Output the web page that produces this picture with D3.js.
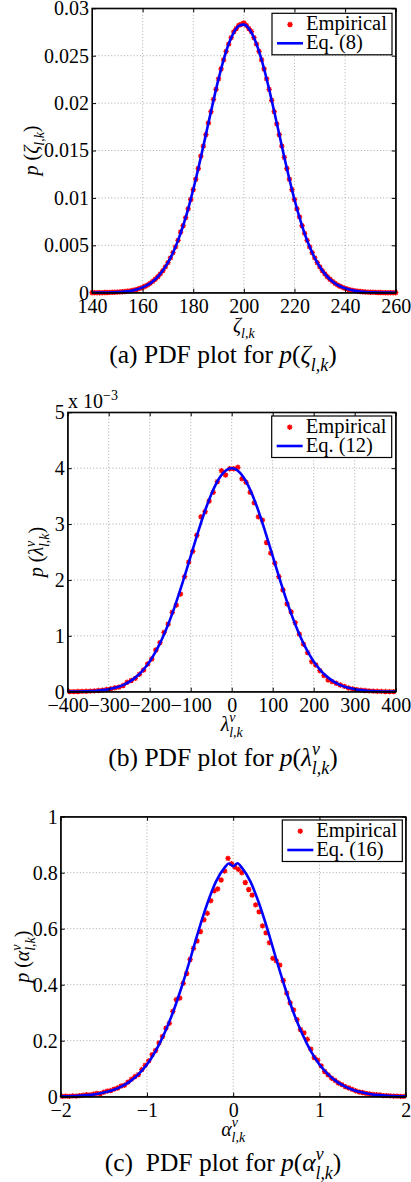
<!DOCTYPE html>
<html><head><meta charset="utf-8">
<script src="https://cdn.jsdelivr.net/npm/d3@7"></script>
<style>
body{margin:0;background:#fff;}
svg{display:block;font-family:"Liberation Serif","Times New Roman",serif;}
text{white-space:pre;}
</style></head><body>
<svg id="c" width="411" height="1182"></svg>
<script>
// ---------- Panel (a): zeta ----------
const zetaEmpX = d3.range(140, 261, 1);
const zetaEmpY = [
 0, 0, 0, 0, 0, 0.00002, 0.00002, 0.00003, 0.00004, 0.00005,
 0.00006, 0.00008, 0.00010, 0.00012, 0.00016, 0.00019, 0.00024, 0.00030, 0.00037, 0.00046,
 0.00056, 0.00068, 0.00082, 0.00099, 0.00119, 0.00142, 0.00168, 0.00199, 0.00233, 0.00273,
 0.00317, 0.00367, 0.00422, 0.00484, 0.00552, 0.00640, 0.00706, 0.00792, 0.00885, 0.00983,
 0.01088, 0.01197, 0.01310, 0.01440, 0.01546, 0.01668, 0.01790, 0.01911, 0.02040, 0.02145,
 0.02255, 0.02360, 0.02457, 0.02545, 0.02623, 0.02690, 0.02752, 0.02786, 0.02820, 0.02832,
 0.02845, 0.02820, 0.02786, 0.02755, 0.02690, 0.02623, 0.02545, 0.02457, 0.02360, 0.02255,
 0.02145, 0.02029, 0.01911, 0.01780, 0.01668, 0.01546, 0.01427, 0.01310, 0.01197, 0.01088,
 0.00983, 0.00885, 0.00800, 0.00706, 0.00625, 0.00552, 0.00484, 0.00422, 0.00367, 0.00317,
 0.00273, 0.00233, 0.00199, 0.00168, 0.00142, 0.00119, 0.00099, 0.00082, 0.00068, 0.00056,
 0.00046, 0.00037, 0.00030, 0.00024, 0.00019, 0.00016, 0.00012, 0.00010, 0.00008, 0.00006,
 0.00005, 0.00004, 0.00003, 0.00002, 0.00002, 0.00001, 0, 0, 0, 0,
 0
];
const zetaLineX = d3.range(140, 261, 2);
const zetaLineY = [
 0, 0.00001, 0.00001, 0.00002, 0.00004, 0.00006, 0.00010, 0.00015, 0.00024, 0.00037,
 0.00056, 0.00082, 0.00119, 0.00168, 0.00233, 0.00317, 0.00422, 0.00552, 0.00706, 0.00885,
 0.01088, 0.01310, 0.01546, 0.01790, 0.02029, 0.02255, 0.02457, 0.02623, 0.02744, 0.02814,
 0.02828, 0.02786, 0.02690, 0.02545, 0.02360, 0.02145, 0.01911, 0.01668, 0.01427, 0.01197,
 0.00983, 0.00792, 0.00625, 0.00484, 0.00367, 0.00273, 0.00199, 0.00142, 0.00099, 0.00068,
 0.00046, 0.00030, 0.00019, 0.00012, 0.00008, 0.00005, 0.00003, 0.00002, 0.00001, 0.00001,
 0
];
const zetaXTicks = [140, 160, 180, 200, 220, 240, 260];
const zetaXTickLabels = ["140", "160", "180", "200", "220", "240", "260"];
const zetaYTicks = [0, 0.005, 0.01, 0.015, 0.02, 0.025, 0.03];
const zetaYTickLabels = ["0", "0.005", "0.01", "0.015", "0.02", "0.025", "0.03"];

// ---------- Panel (b): lambda (values in units of 10^-3) ----------
const lambdaEmpX = d3.range(-395, 396, 10);
const lambdaEmpY = [
 0.002, 0.002, 0.004, 0.005, 0.007, 0.010, 0.015, 0.021, 0.028, 0.040,
 0.052, 0.070, 0.082, 0.110, 0.168, 0.200, 0.238, 0.311, 0.388, 0.496,
 0.585, 0.746, 0.877, 1.060, 1.210, 1.420, 1.550, 1.748, 2.060, 2.320,
 2.510, 2.800, 3.130, 3.220, 3.410, 3.568, 3.760, 3.955, 3.878, 3.990,
 3.990, 4.016, 3.810, 3.747, 3.568, 3.380, 3.130, 3.070, 2.670, 2.480,
 2.300, 2.060, 1.820, 1.570, 1.430, 1.235, 1.030, 0.850, 0.700, 0.537,
 0.478, 0.376, 0.287, 0.210, 0.180, 0.150, 0.120, 0.095, 0.066, 0.050,
 0.038, 0.027, 0.021, 0.014, 0.010, 0.007, 0.005, 0.003, 0.002, 0.002
];
const lambdaLineX = d3.range(-400, 401, 10);
const lambdaLineY = [
 0.001, 0.002, 0.003, 0.004, 0.006, 0.009, 0.012, 0.017, 0.024, 0.033,
 0.044, 0.060, 0.079, 0.104, 0.136, 0.176, 0.225, 0.284, 0.356, 0.441,
 0.541, 0.658, 0.792, 0.943, 1.112, 1.299, 1.501, 1.718, 1.947, 2.184,
 2.426, 2.668, 2.904, 3.131, 3.341, 3.530, 3.692, 3.824, 3.921, 3.980,
 4.000,
 3.980, 3.921, 3.824, 3.692, 3.530, 3.341, 3.131, 2.904, 2.668, 2.426,
 2.184, 1.947, 1.718, 1.501, 1.299, 1.112, 0.943, 0.792, 0.658, 0.541,
 0.441, 0.356, 0.284, 0.225, 0.176, 0.136, 0.104, 0.079, 0.060, 0.044,
 0.033, 0.024, 0.017, 0.012, 0.009, 0.006, 0.004, 0.003, 0.002, 0.001
];
const lambdaXTicks = [-400, -300, -200, -100, 0, 100, 200, 300, 400];
const lambdaXTickLabels = ["\u2212400", "\u2212300", "\u2212200", "\u2212100", "0", "100", "200", "300", "400"];
const lambdaYTicks = [0, 1, 2, 3, 4, 5];
const lambdaYTickLabels = ["0", "1", "2", "3", "4", "5"];

// ---------- Panel (c): alpha ----------
const alphaEmpX = d3.range(-1.98, 1.99, 0.04);
const alphaEmpY = [
 0.001, 0.002, 0.001, 0.003, 0.002, 0.004, 0.005, 0.007, 0.006, 0.009,
 0.012, 0.011, 0.016, 0.020, 0.022, 0.027, 0.031, 0.038, 0.041, 0.052,
 0.062, 0.072, 0.079, 0.097, 0.112, 0.128, 0.150, 0.165, 0.192, 0.215,
 0.245, 0.262, 0.305, 0.347, 0.352, 0.405, 0.440, 0.490, 0.530, 0.556,
 0.590, 0.632, 0.655, 0.700, 0.735, 0.742, 0.774, 0.806, 0.851, 0.832,
 0.820, 0.812, 0.800, 0.765, 0.740, 0.720, 0.685, 0.660, 0.610, 0.585,
 0.550, 0.494, 0.485, 0.470, 0.415, 0.370, 0.335, 0.310, 0.275, 0.240,
 0.228, 0.205, 0.170, 0.140, 0.130, 0.110, 0.090, 0.078, 0.066, 0.058,
 0.049, 0.043, 0.036, 0.031, 0.026, 0.021, 0.017, 0.015, 0.012, 0.010,
 0.008, 0.007, 0.006, 0.004, 0.004, 0.003, 0.002, 0.002, 0.001, 0.001
];
const alphaLineX = [-2, -1.9, -1.8, -1.7, -1.6, -1.5, -1.4, -1.3, -1.2, -1.1, -1, -0.9, -0.8, -0.7, -0.6, -0.5, -0.4, -0.3, -0.2, -0.1, -0.05,
 0, 0.05, 0.1, 0.2, 0.3, 0.4, 0.5, 0.6, 0.7, 0.8, 0.9, 1, 1.1, 1.2, 1.3, 1.4, 1.5, 1.6, 1.7, 1.8, 1.9, 2];
const alphaLineY = [0.001, 0.0018, 0.003, 0.0055, 0.009, 0.015, 0.023, 0.036, 0.054, 0.080, 0.115, 0.163, 0.225, 0.300, 0.390, 0.490, 0.595, 0.690, 0.768, 0.818, 0.833,
 0.823, 0.834, 0.818, 0.768, 0.690, 0.595, 0.490, 0.390, 0.300, 0.225, 0.163, 0.115, 0.080, 0.054, 0.036, 0.023, 0.015, 0.009, 0.0055, 0.003, 0.0018, 0.001];
const alphaXTicks = [-2, -1, 0, 1, 2];
const alphaXTickLabels = ["\u22122", "\u22121", "0", "1", "2"];
const alphaYTicks = [0, 0.2, 0.4, 0.6, 0.8, 1];
const alphaYTickLabels = ["0", "0.2", "0.4", "0.6", "0.8", "1"];

const legendLabels = ["Empirical", "Eq. (8)", "Eq. (12)", "Eq. (16)"];

// ---------- drawing ----------
const svg = d3.select('#c');
const TICK_FS = 20;

function mathText(t, pieces, size) {
  let shift = 0;
  pieces.forEach(p => {
    const ts = t.append('tspan').text(p.t);
    let s = 0, fs = size;
    if (p.sub) { s = 0.3 * size; fs = 0.7 * size; }
    if (p.sup) { s = -0.42 * size; fs = 0.7 * size; }
    ts.attr('font-size', fs).attr('dy', s - shift);
    if (p.i) ts.attr('font-style', 'italic');
    if (p.dx) ts.attr('dx', p.dx * size);
    shift = s;
  });
  return t;
}

function star(s) {
  const a = s * 0.72;
  return `M${-s},0H${s}M0,${-s}V${s}M${-a},${-a}L${a},${a}M${-a},${a}L${a},${-a}`;
}

function marker(sel) {
  sel.append('circle').attr('r', 1.8).attr('fill', '#ff0000');
  sel.append('path').attr('d', star(2.7)).attr('stroke', '#ff0000').attr('stroke-width', 1.3).attr('fill', 'none');
}

function panel(o) {
  const x = d3.scaleLinear().domain(o.xDomain).range([o.left, o.right]);
  const y = d3.scaleLinear().domain(o.yDomain).range([o.bottom, o.top]);
  const g = svg.append('g');

  // grid
  g.selectAll('.gx').data(o.xTicks).join('line')
    .attr('x1', d => x(d)).attr('x2', d => x(d)).attr('y1', o.top).attr('y2', o.bottom)
    .attr('stroke', '#aaaaaa').attr('stroke-width', 1).attr('stroke-dasharray', '1,2.2');
  g.selectAll('.gy').data(o.yTicks).join('line')
    .attr('y1', d => y(d)).attr('y2', d => y(d)).attr('x1', o.left).attr('x2', o.right)
    .attr('stroke', '#aaaaaa').attr('stroke-width', 1).attr('stroke-dasharray', '1,2.2');

  // empirical markers
  g.append('g').selectAll('g').data(o.empX.map((d, i) => [d, o.empY[i]])).join('g')
    .attr('transform', d => `translate(${x(d[0])},${y(d[1])})`)
    .each(function () { marker(d3.select(this)); });

  // theoretical line
  const line = d3.line().x(d => x(d[0])).y(d => y(d[1])).curve(d3.curveMonotoneX);
  g.append('path').datum(o.lineX.map((d, i) => [d, o.lineY[i]]))
    .attr('d', line).attr('fill', 'none').attr('stroke', '#0000ff').attr('stroke-width', 2.6)
    .attr('stroke-linejoin', 'round');

  // axes
  const styleAxis = a => {
    a.selectAll('.domain').attr('stroke', '#000');
    a.selectAll('.tick line').attr('stroke', '#000');
    a.selectAll('text').attr('font-size', TICK_FS).attr('font-family', '"Liberation Serif",serif').attr('fill', '#000');
  };
  g.append('g').attr('transform', `translate(0,${o.bottom})`)
    .call(d3.axisBottom(x).tickValues(o.xTicks).tickFormat((d, i) => o.xLabels[i]).tickSizeInner(-4).tickSizeOuter(0).tickPadding(6))
    .call(styleAxis);
  g.append('g').attr('transform', `translate(0,${o.top})`)
    .call(d3.axisTop(x).tickValues(o.xTicks).tickFormat(() => '').tickSizeInner(-4).tickSizeOuter(0))
    .call(styleAxis);
  g.append('g').attr('transform', `translate(${o.left},0)`)
    .call(d3.axisLeft(y).tickValues(o.yTicks).tickFormat((d, i) => o.yLabels[i]).tickSizeInner(-4).tickSizeOuter(0).tickPadding(3))
    .call(styleAxis);
  g.append('g').attr('transform', `translate(${o.right},0)`)
    .call(d3.axisRight(y).tickValues(o.yTicks).tickFormat(() => '').tickSizeInner(-4).tickSizeOuter(0))
    .call(styleAxis);
  g.selectAll('.domain').attr('stroke-width', 1);
  g.append('rect').attr('x', o.left).attr('y', o.top).attr('width', o.right - o.left).attr('height', o.bottom - o.top)
    .attr('fill', 'none').attr('stroke', '#000').attr('stroke-width', 1.2);

  // legend
  const lx = o.legend[0], ly = o.legend[1];
  const lg = g.append('g');
  lg.append('rect').attr('x', lx).attr('y', ly).attr('width', 120).attr('height', 41.5)
    .attr('fill', '#fff').attr('stroke', '#000').attr('stroke-width', 1.2);
  marker(lg.append('g').attr('transform', `translate(${lx + 18},${ly + 11.2})`));
  lg.append('line').attr('x1', lx + 5).attr('x2', lx + 31).attr('y1', ly + 30).attr('y2', ly + 30)
    .attr('stroke', '#0000ff').attr('stroke-width', 2.6);
  lg.append('text').attr('x', lx + 34).attr('y', ly + 16.5).attr('font-size', 20.5).text(legendLabels[0]);
  lg.append('text').attr('x', lx + 34).attr('y', ly + 35.5).attr('font-size', 20.5).text(o.eqLabel);

  // axis labels
  const cx = (o.left + o.right) / 2;
  mathText(g.append('text').attr('x', cx).attr('y', o.bottom + 39).attr('text-anchor', 'middle'), o.xLabelPieces, 20);
  const cy = (o.top + o.bottom) / 2;
  mathText(g.append('text').attr('transform', `translate(${o.yLabelX},${cy}) rotate(-90)`).attr('text-anchor', 'middle'), o.yLabelPieces, 20);
  // caption
  mathText(g.append('text').attr('x', 223).attr('y', o.captionY).attr('text-anchor', 'middle'), o.captionPieces, 25.5);
  return g;
}

panel({
  left: 92, right: 395.7, top: 8.3, bottom: 292.7,
  xDomain: [140, 260], yDomain: [0, 0.03],
  xTicks: zetaXTicks, xLabels: zetaXTickLabels, yTicks: zetaYTicks, yLabels: zetaYTickLabels,
  empX: zetaEmpX, empY: zetaEmpY, lineX: zetaLineX, lineY: zetaLineY,
  legend: [272, 13.3], eqLabel: legendLabels[1],
  xLabelPieces: [{t: 'ζ', i: 1}, {t: 'l,k', i: 1, sub: 1}],
  yLabelX: 38,
  yLabelPieces: [{t: 'p', i: 1}, {t: ' ('}, {t: 'ζ', i: 1}, {t: 'l,k', i: 1, sub: 1}, {t: ')'}],
  captionY: 363,
  captionPieces: [{t: '(a) PDF plot for '}, {t: 'p', i: 1}, {t: '('}, {t: 'ζ', i: 1}, {t: 'l,k', i: 1, sub: 1}, {t: ')'}]
});

const gb = panel({
  left: 67.7, right: 395.7, top: 412.3, bottom: 691.7,
  xDomain: [-400, 400], yDomain: [0, 5],
  xTicks: lambdaXTicks, xLabels: lambdaXTickLabels, yTicks: lambdaYTicks, yLabels: lambdaYTickLabels,
  empX: lambdaEmpX, empY: lambdaEmpY, lineX: lambdaLineX, lineY: lambdaLineY,
  legend: [271.7, 416], eqLabel: legendLabels[2],
  xLabelPieces: [{t: 'λ', i: 1}, {t: 'ν', i: 1, sup: 1}, {t: 'l,k', i: 1, sub: 1, dx: -0.32}],
  yLabelX: 43,
  yLabelPieces: [{t: 'p', i: 1}, {t: ' ('}, {t: 'λ', i: 1}, {t: 'ν', i: 1, sup: 1}, {t: 'l,k', i: 1, sub: 1, dx: -0.32}, {t: ')'}],
  captionY: 766,
  captionPieces: [{t: '(b) PDF plot for '}, {t: 'p', i: 1}, {t: '('}, {t: 'λ', i: 1}, {t: 'ν', i: 1, sup: 1}, {t: 'l,k', i: 1, sub: 1, dx: -0.32}, {t: ')'}]
});
// exponent label for panel (b)
const ex = gb.append('text').attr('x', 68).attr('y', 408).attr('font-size', TICK_FS).text('x 10');
ex.append('tspan').attr('font-size', 14).attr('dy', -8).text('\u22123');

panel({
  left: 60.7, right: 405.7, top: 816.7, bottom: 1096.7,
  xDomain: [-2, 2], yDomain: [0, 1],
  xTicks: alphaXTicks, xLabels: alphaXTickLabels, yTicks: alphaYTicks, yLabels: alphaYTickLabels,
  empX: alphaEmpX, empY: alphaEmpY, lineX: alphaLineX, lineY: alphaLineY,
  legend: [282.3, 820], eqLabel: legendLabels[3],
  xLabelPieces: [{t: 'α', i: 1}, {t: 'ν', i: 1, sup: 1}, {t: 'l,k', i: 1, sub: 1, dx: -0.32}],
  yLabelX: 29,
  yLabelPieces: [{t: 'p', i: 1}, {t: ' ('}, {t: 'α', i: 1}, {t: 'ν', i: 1, sup: 1}, {t: 'l,k', i: 1, sub: 1, dx: -0.32}, {t: ')'}],
  captionY: 1171,
  captionPieces: [{t: '(c)  PDF plot for '}, {t: 'p', i: 1}, {t: '('}, {t: 'α', i: 1}, {t: 'ν', i: 1, sup: 1}, {t: 'l,k', i: 1, sub: 1, dx: -0.32}, {t: ')'}]
});
</script>
</body></html>
